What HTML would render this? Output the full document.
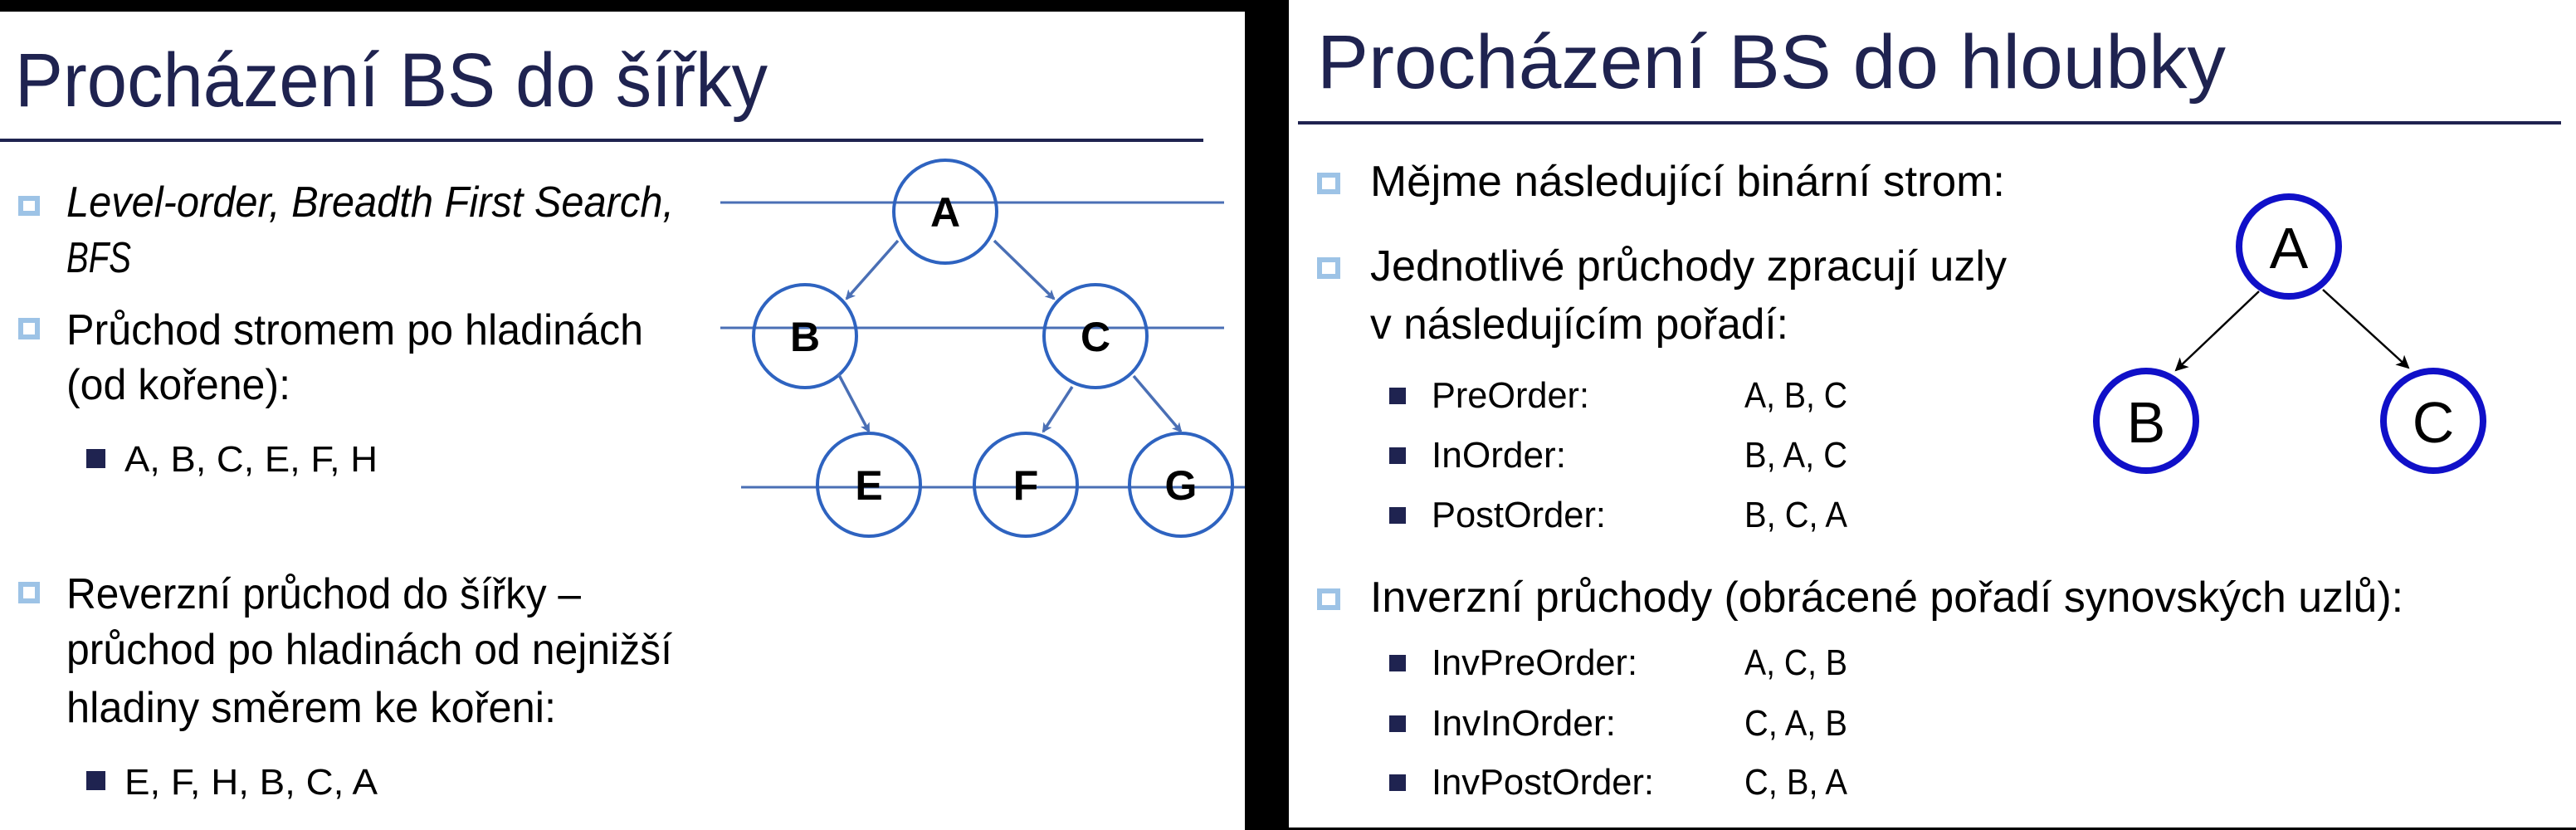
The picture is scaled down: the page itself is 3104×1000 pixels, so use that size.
<!DOCTYPE html>
<html><head><meta charset="utf-8"><style>html,body{margin:0;padding:0;background:#fff}svg{display:block}</style></head>
<body>
<svg width="3104" height="1000" viewBox="0 0 3104 1000" xmlns="http://www.w3.org/2000/svg" font-family="Liberation Sans, Arial, sans-serif">
<defs>
<marker id="ab" markerWidth="12" markerHeight="12" refX="10" refY="6" orient="auto" markerUnits="userSpaceOnUse"><path d="M0,0 L12,6 L0,12 L3,6 z" fill="#4a6fb5"/></marker>
<marker id="ak" markerWidth="16" markerHeight="16" refX="14" refY="8" orient="auto" markerUnits="userSpaceOnUse"><path d="M0,0 L16,8 L0,16 L4,8 z" fill="#000"/></marker>
</defs>
<rect width="3104" height="1000" fill="#fff"/>
<rect x="0" y="0" width="1500" height="14" fill="#000"/>
<rect x="1500" y="0" width="53" height="1000" fill="#000"/>
<rect x="1553" y="997" width="1551" height="3" fill="#000"/>

<!-- LEFT -->
<text x="18" y="128" font-size="92" fill="#1f2350" textLength="907" lengthAdjust="spacingAndGlyphs">Procházení BS do šířky</text>
<rect x="0" y="167" width="1450" height="4" fill="#1f2350"/>

<g fill="none" stroke="#9dc3e6" stroke-width="6">
<rect x="25" y="239" width="20" height="18"/>
<rect x="25" y="386" width="20" height="20"/>
<rect x="25" y="704" width="20" height="20"/>
</g>
<g fill="#1f2350">
<rect x="104" y="541" width="23" height="23"/>
<rect x="104" y="929" width="23" height="23"/>
</g>
<g font-size="52" fill="#000">
<text x="80" y="261" font-style="italic" textLength="732" lengthAdjust="spacingAndGlyphs">Level-order, Breadth First Search,</text>
<text x="80" y="328" font-style="italic" textLength="78" lengthAdjust="spacingAndGlyphs">BFS</text>
<text x="80" y="415" textLength="695" lengthAdjust="spacingAndGlyphs">Průchod stromem po hladinách</text>
<text x="80" y="481" textLength="270" lengthAdjust="spacingAndGlyphs">(od kořene):</text>
<text x="80" y="733" textLength="620" lengthAdjust="spacingAndGlyphs">Reverzní průchod do šířky –</text>
<text x="80" y="800" textLength="730" lengthAdjust="spacingAndGlyphs">průchod po hladinách od nejnižší</text>
<text x="80" y="870" textLength="590" lengthAdjust="spacingAndGlyphs">hladiny směrem ke kořeni:</text>
</g>
<g font-size="44" fill="#000">
<text x="150" y="568" textLength="305" lengthAdjust="spacingAndGlyphs">A, B, C, E, F, H</text>
<text x="150" y="957" textLength="305" lengthAdjust="spacingAndGlyphs">E, F, H, B, C, A</text>
</g>

<g stroke="#4a6fb5" stroke-width="3">
<line x1="868" y1="244" x2="1475" y2="244"/>
<line x1="868" y1="395" x2="1475" y2="395"/>
<line x1="893" y1="587" x2="1500" y2="587"/>
</g>
<g fill="none" stroke="#2e63c0" stroke-width="4">
<circle cx="1139" cy="255" r="62"/>
<circle cx="970" cy="405" r="62"/>
<circle cx="1320" cy="405" r="62"/>
<circle cx="1047" cy="584" r="62"/>
<circle cx="1236" cy="584" r="62"/>
<circle cx="1423" cy="584" r="62"/>
</g>
<g stroke="#4a6fb5" stroke-width="3.5" marker-end="url(#ab)">
<line x1="1082" y1="290" x2="1020" y2="360"/>
<line x1="1198" y1="290" x2="1270" y2="360"/>
<line x1="1010" y1="450" x2="1047" y2="520"/>
<line x1="1292" y1="466" x2="1257" y2="520"/>
<line x1="1366" y1="453" x2="1423" y2="520"/>
</g>
<g font-size="50" font-weight="bold" fill="#000" text-anchor="middle">
<text x="1139" y="273">A</text>
<text x="970" y="423">B</text>
<text x="1320" y="423">C</text>
<text x="1047" y="602">E</text>
<text x="1236" y="602">F</text>
<text x="1423" y="602">G</text>
</g>

<!-- RIGHT -->
<text x="1587" y="106" font-size="92" fill="#1f2350" textLength="1095" lengthAdjust="spacingAndGlyphs">Procházení BS do hloubky</text>
<rect x="1564" y="146" width="1522" height="4" fill="#1f2350"/>

<g fill="none" stroke="#9dc3e6" stroke-width="6">
<rect x="1590" y="211" width="22" height="20"/>
<rect x="1590" y="313" width="22" height="20"/>
<rect x="1590" y="712" width="22" height="20"/>
</g>
<g fill="#1f2350">
<rect x="1674" y="467" width="20" height="20"/>
<rect x="1674" y="539" width="20" height="20"/>
<rect x="1674" y="611" width="20" height="20"/>
<rect x="1674" y="789" width="20" height="20"/>
<rect x="1674" y="862" width="20" height="20"/>
<rect x="1674" y="933" width="20" height="20"/>
</g>
<g font-size="52" fill="#000">
<text x="1651" y="236" textLength="765" lengthAdjust="spacingAndGlyphs">Mějme následující binární strom:</text>
<text x="1651" y="338" textLength="767" lengthAdjust="spacingAndGlyphs">Jednotlivé průchody zpracují uzly</text>
<text x="1651" y="408" textLength="504" lengthAdjust="spacingAndGlyphs">v následujícím pořadí:</text>
<text x="1651" y="737" textLength="1245" lengthAdjust="spacingAndGlyphs">Inverzní průchody (obrácené pořadí synovských uzlů):</text>
</g>
<g font-size="44" fill="#000">
<text x="1725" y="491" textLength="190" lengthAdjust="spacingAndGlyphs">PreOrder:</text>
<text x="1725" y="563" textLength="162" lengthAdjust="spacingAndGlyphs">InOrder:</text>
<text x="1725" y="635" textLength="210" lengthAdjust="spacingAndGlyphs">PostOrder:</text>
<text x="1725" y="813" textLength="248" lengthAdjust="spacingAndGlyphs">InvPreOrder:</text>
<text x="1725" y="886" textLength="222" lengthAdjust="spacingAndGlyphs">InvInOrder:</text>
<text x="1725" y="957" textLength="268" lengthAdjust="spacingAndGlyphs">InvPostOrder:</text>
<text x="2102" y="491" textLength="124" lengthAdjust="spacingAndGlyphs">A, B, C</text>
<text x="2102" y="563" textLength="124" lengthAdjust="spacingAndGlyphs">B, A, C</text>
<text x="2102" y="635" textLength="124" lengthAdjust="spacingAndGlyphs">B, C, A</text>
<text x="2102" y="813" textLength="124" lengthAdjust="spacingAndGlyphs">A, C, B</text>
<text x="2102" y="886" textLength="124" lengthAdjust="spacingAndGlyphs">C, A, B</text>
<text x="2102" y="957" textLength="124" lengthAdjust="spacingAndGlyphs">C, B, A</text>
</g>

<g fill="none" stroke="#1010c8" stroke-width="8">
<circle cx="2758" cy="297" r="60"/>
<circle cx="2586" cy="507" r="60"/>
<circle cx="2932" cy="507" r="60"/>
</g>
<g stroke="#000" stroke-width="2.5" marker-end="url(#ak)">
<line x1="2722" y1="351" x2="2622" y2="446"/>
<line x1="2799" y1="349" x2="2902" y2="443"/>
</g>
<g font-size="70" fill="#000" text-anchor="middle">
<text x="2758" y="323">A</text>
<text x="2586" y="533">B</text>
<text x="2932" y="533">C</text>
</g>
</svg>
</body></html>
